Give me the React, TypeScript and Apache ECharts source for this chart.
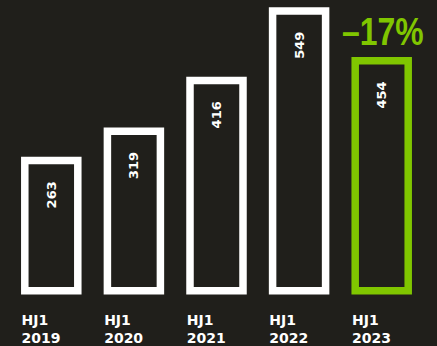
import React, { useEffect, useRef } from "react";
import * as echarts from "echarts";

const periods = ["HJ1", "HJ1", "HJ1", "HJ1", "HJ1"];
const years = ["2019", "2020", "2021", "2022", "2023"];
const values = [263, 319, 416, 549, 454];
const highlightIndex = 4;

const BG = "#201f1b";
const WHITE = "#ffffff";
const GREEN = "#80c600";

export default function App() {
  const ref = useRef<HTMLDivElement>(null);
  useEffect(() => {
    const chart = echarts.init(ref.current!, null, { renderer: "svg" });
    const prev = values[highlightIndex - 1];
    const cur = values[highlightIndex];
    const change = Math.round(((cur - prev) / prev) * 100);
    const changeLabel = (change < 0 ? "\u2013" : "+") + Math.abs(change) + "%";
    const catFont = {
      fill: WHITE,
      fontSize: 14,
      fontWeight: "bold",
      fontFamily: "DejaVu Sans",
      align: "left",
      verticalAlign: "middle",
      lineHeight: 11,
    };
    chart.setOption({
      animation: false,
      backgroundColor: BG,
      grid: { left: 10, right: 14, top: 1.5, bottom: 51.6 },
      xAxis: { type: "category", data: years, show: false },
      yAxis: { type: "value", min: 0, max: 560, show: false },
      series: [
        {
          type: "custom",
          clip: false,
          data: values.map((v, i) => [i, v]),
          renderItem: (params: any, api: any) => {
            const i = api.value(0);
            const v = api.value(1);
            const top = api.coord([i, v]);
            const base = api.coord([i, 0]);
            const w = 60.5;
            const bw = 7.5;
            const color = i === highlightIndex ? GREEN : WHITE;
            const left = top[0] - w / 2;
            const children: any[] = [
              {
                type: "rect",
                shape: {
                  x: left + bw / 2,
                  y: top[1] + bw / 2,
                  width: w - bw,
                  height: base[1] - top[1] - bw,
                },
                style: { fill: "none", stroke: color, lineWidth: bw },
              },
              {
                type: "text",
                x: top[0],
                y: top[1] + 38,
                rotation: Math.PI / 2,
                style: {
                  text: String(v),
                  fill: WHITE,
                  fontSize: 13,
                  fontWeight: "bold",
                  fontFamily: "DejaVu Sans",
                  align: "center",
                  verticalAlign: "middle",
                },
              },
              {
                type: "text",
                x: left + 0.5,
                y: base[1] + 25.4,
                style: { ...catFont, text: periods[i] },
              },
              {
                type: "text",
                x: left + 0.5,
                y: base[1] + 44,
                style: { ...catFont, text: years[i] },
              },
            ];
            if (i === highlightIndex) {
              children.push({
                type: "text",
                x: top[0] + 1,
                y: top[1] - 6,
                scaleX: 0.84,
                style: {
                  text: changeLabel,
                  fill: GREEN,
                  fontSize: 38,
                  fontWeight: "bold",
                  fontFamily: "'Liberation Sans', sans-serif",
                  align: "center",
                  verticalAlign: "bottom",
                },
              });
            }
            return { type: "group", children };
          },
        },
      ],
    });
    return () => chart.dispose();
  }, []);
  return (
    <div
      ref={ref}
      style={{ position: "fixed", left: 0, top: 0, width: 437, height: 346 }}
    />
  );
}
